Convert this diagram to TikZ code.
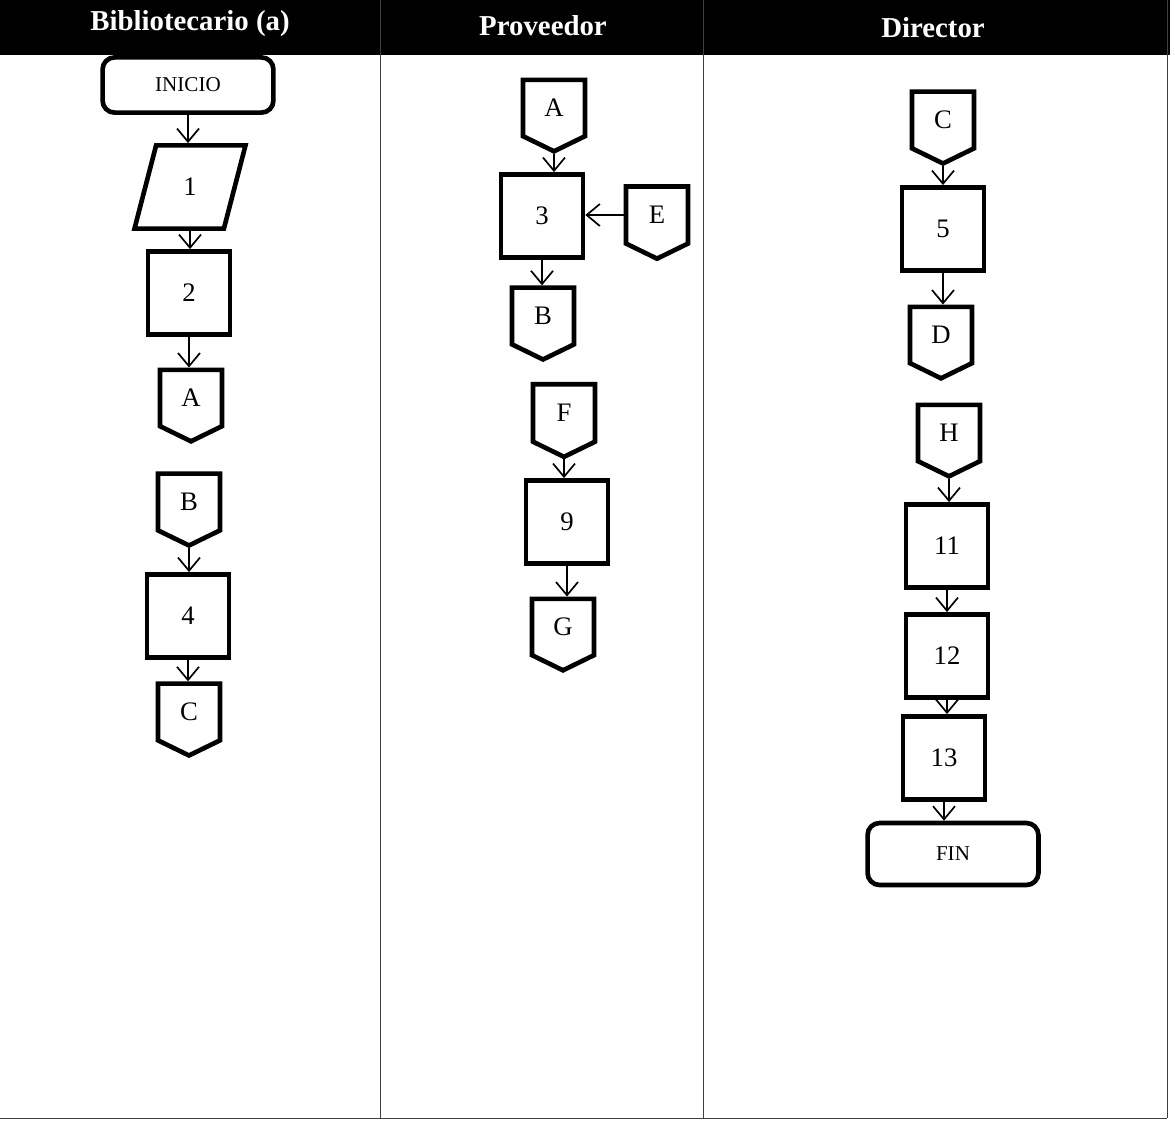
\documentclass[tikz,border=0pt]{standalone}
\usepackage{fontspec}
\setmainfont{Liberation Serif}
\usetikzlibrary{arrows.meta,shapes.geometric,shapes.symbols}
\tikzset{
  box/.style={draw,line width=3.3pt},
  proc/.style={box,minimum width=2.05cm,minimum height=2.08cm,font=\fontsize{19}{19}\selectfont},
  term/.style={box,rounded corners=0.3cm,minimum width=4.27cm,minimum height=1.38cm,font=\fontsize{15}{15}\selectfont},
  conn/.style={box,shape=signal,signal to=south,signal pointer angle=128,minimum width=1.55cm,minimum height=1.56cm,inner sep=2pt,font=\fontsize{19}{19}\selectfont},
  inout/.style={box,trapezium,trapezium left angle=75,trapezium right angle=105,trapezium stretches=true,minimum width=2.78cm,minimum height=2.08cm,font=\fontsize{19}{19}\selectfont},
  lane/.style={text=white,font=\bfseries\fontsize{20.5}{20.5}\selectfont},
  grid/.style={draw=black!75,line width=0.6pt}
}
\begin{document}
\begin{tikzpicture}[x=0.025cm,y=-0.025cm,>={Straight Barb[length=0.33cm,width=0.55cm]},line width=1.2pt]
\useasboundingbox (0,0) rectangle (1175,1133);
\fill (0,0) rectangle (1170,55);
\draw[grid] (380,0) -- (380,1118) (703,0) -- (703,1118) (1167,0) -- (1167,1118) (0,1118) -- (1167,1118);
\node[lane] (L1) at (190,24) {Bibliotecario (a)};
\node[lane] (L2) at (543,26) {Proveedor};
\node[lane] (L3) at (933,28) {Director};

\node[term] (ini) at (188,85) {INICIO};
\node[inout] (p1) at (190,187) {1};
\node[proc] (p2) at (189,293) {2};
\node[conn] (a1) at (191,398) {A};
\node[conn] (b1) at (189,502) {B};
\node[proc] (p4) at (188,616) {4};
\node[conn] (c1) at (189,712) {C};

\node[conn] (a2) at (554,108) {A};
\node[proc] (p3) at (542,216) {3};
\node[conn] (e2) at (657,215) {E};
\node[conn] (b2) at (543,316) {B};
\node[conn] (f2) at (564,413) {F};
\node[proc] (p9) at (567,522) {9};
\node[conn] (g2) at (563,627) {G};

\node[conn] (c3) at (943,120) {C};
\node[proc] (p5) at (943,229) {5};
\node[conn] (d3) at (941,335) {D};
\node[conn] (h3) at (949,433) {H};
\node[proc] (p11) at (947,546) {11};
\node[proc] (p12) at (947,656) {12};
\node[proc] (p13) at (944,758) {13};
\node[term,minimum height=1.55cm] (fin) at (953,854) {FIN};

\draw[->] (ini.south) -- (ini.south |- p1.north);
\draw[->] (p1.south) -- (p1.south |- p2.north);
\draw[->] (p2.south) -- (p2.south |- a1.north);
\draw[->] (b1.south) -- (b1.south |- p4.north);
\draw[->] (p4.south) -- (p4.south |- c1.north);
\draw[->] (a2.south) -- (a2.south |- p3.north);
\draw[->] (e2.west) -- (e2.west -| p3.east);
\draw[->] (p3.south) -- (p3.south |- b2.north);
\draw[->] (f2.south) -- (f2.south |- p9.north);
\draw[->] (p9.south) -- (p9.south |- g2.north);
\draw[->] (c3.south) -- (c3.south |- p5.north);
\draw[->] (p5.south) -- (p5.south |- d3.north);
\draw[->] (h3.south) -- (h3.south |- p11.north);
\draw[->] (p11.south) -- (p11.south |- p12.north);
\draw[->] (p12.south) -- (p12.south |- p13.north);
\draw[->] (p13.south) -- (p13.south |- fin.north);
\end{tikzpicture}
\end{document}
